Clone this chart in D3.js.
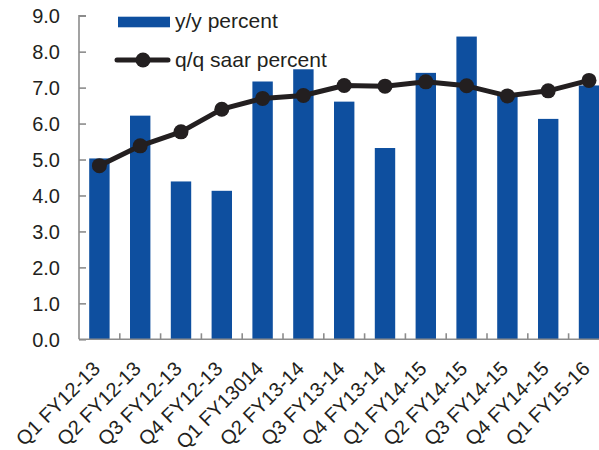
<!DOCTYPE html>
<html>
<head>
<meta charset="utf-8">
<script src="https://cdn.jsdelivr.net/npm/d3@7"></script>
<style>
  html, body { margin: 0; padding: 0; background: #fff; }
  svg { display: block; }
  text { font-family: "Liberation Sans", Arial, sans-serif; fill: #231f20; }
</style>
</head>
<body>
<svg id="chart" width="599" height="450"></svg>
<script>
// Quarterly categories
const quarters = [
  "Q1 FY12-13", "Q2 FY12-13", "Q3 FY12-13", "Q4 FY12-13", "Q1 FY13014",
  "Q2 FY13-14", "Q3 FY13-14", "Q4 FY13-14", "Q1 FY14-15", "Q2 FY14-15",
  "Q3 FY14-15", "Q4 FY14-15", "Q1 FY15-16"
];
// Year-on-year growth (bars)
const yoyPercent = [5.03, 6.22, 4.39, 4.13, 7.17, 7.51, 6.61, 5.32, 7.41, 8.42, 6.8, 6.13, 7.06];
// Quarter-on-quarter seasonally adjusted annualised rate (line)
const qoqSaarPercent = [4.83, 5.38, 5.77, 6.40, 6.70, 6.78, 7.06, 7.04, 7.16, 7.05, 6.77, 6.91, 7.20];
// Y axis ticks
const yTicks = [0, 1, 2, 3, 4, 5, 6, 7, 8, 9];

const barColor = "#0e4f9f";
const lineColor = "#231f20";
const axisColor = "#8c8c8c";
const fontSize = 20;
const legendFontSize = 21;

const svg = d3.select("#chart");
const plot = { left: 79, right: 609.4, top: 15.7, bottom: 339.3 };

const x = d3.scaleBand().domain(quarters).range([plot.left, plot.right]).paddingInner(0.5).paddingOuter(0.25);
const y = d3.scaleLinear().domain([0, 9]).range([plot.bottom, plot.top]);
const step = x.step();

// Bars
svg.append("g").selectAll("rect").data(quarters).join("rect")
  .attr("x", d => x(d))
  .attr("width", x.bandwidth())
  .attr("y", (d, i) => y(yoyPercent[i]))
  .attr("height", (d, i) => y(0) - y(yoyPercent[i]))
  .attr("fill", barColor);

// Y axis: ticks point inward
const yAxis = svg.append("g").attr("transform", `translate(${plot.left},0)`)
  .call(d3.axisRight(y).tickValues(yTicks).tickSize(7).tickFormat(""));
yAxis.select(".domain").attr("stroke", axisColor).attr("stroke-width", 1.6).attr("d", `M7,${plot.top}H0V${plot.bottom}`);
yAxis.selectAll(".tick line").attr("stroke", axisColor).attr("stroke-width", 1.6);

svg.append("g").selectAll("text").data(yTicks).join("text")
  .attr("x", 60)
  .attr("y", d => y(d))
  .attr("dy", "0.36em")
  .attr("text-anchor", "end")
  .attr("font-size", fontSize)
  .text(d => d3.format(".1f")(d));

// X axis: baseline with separator ticks pointing up between categories
const xg = svg.append("g");
xg.append("line")
  .attr("x1", plot.left).attr("x2", plot.right)
  .attr("y1", y(0)).attr("y2", y(0))
  .attr("stroke", axisColor).attr("stroke-width", 1.6);
xg.selectAll("line.sep").data(quarters.slice(1)).join("line")
  .attr("class", "sep")
  .attr("x1", d => x(d) - (step - x.bandwidth()) / 2)
  .attr("x2", d => x(d) - (step - x.bandwidth()) / 2)
  .attr("y1", y(0)).attr("y2", y(0) - 6)
  .attr("stroke", axisColor).attr("stroke-width", 1.6);

xg.selectAll("text").data(quarters).join("text")
  .attr("transform", d => `translate(${x(d) + x.bandwidth() / 2 + 2},370) rotate(-45)`)
  .attr("text-anchor", "end")
  .attr("font-size", fontSize)
  .text(d => d);

// Line series with markers
const line = d3.line()
  .x((d, i) => x(quarters[i]) + x.bandwidth() / 2)
  .y(d => y(d));
svg.append("path").datum(qoqSaarPercent)
  .attr("d", line)
  .attr("fill", "none")
  .attr("stroke", lineColor)
  .attr("stroke-width", 5)
  .attr("stroke-linejoin", "round");
svg.append("g").selectAll("circle").data(qoqSaarPercent).join("circle")
  .attr("cx", (d, i) => x(quarters[i]) + x.bandwidth() / 2)
  .attr("cy", d => y(d))
  .attr("r", 7.5)
  .attr("fill", lineColor);

// Legend
const legend = svg.append("g");
legend.append("rect").attr("x", 118).attr("y", 16.7).attr("width", 52).attr("height", 10.6).attr("fill", barColor);
legend.append("text").attr("x", 175).attr("y", 28).attr("font-size", legendFontSize).text("y/y percent");
legend.append("line").attr("x1", 117).attr("x2", 168).attr("y1", 60).attr("y2", 60)
  .attr("stroke", lineColor).attr("stroke-width", 5).attr("stroke-linecap", "round");
legend.append("circle").attr("cx", 143).attr("cy", 60).attr("r", 7.5).attr("fill", lineColor);
legend.append("text").attr("x", 175).attr("y", 67).attr("font-size", legendFontSize).text("q/q saar percent");
</script>
</body>
</html>
